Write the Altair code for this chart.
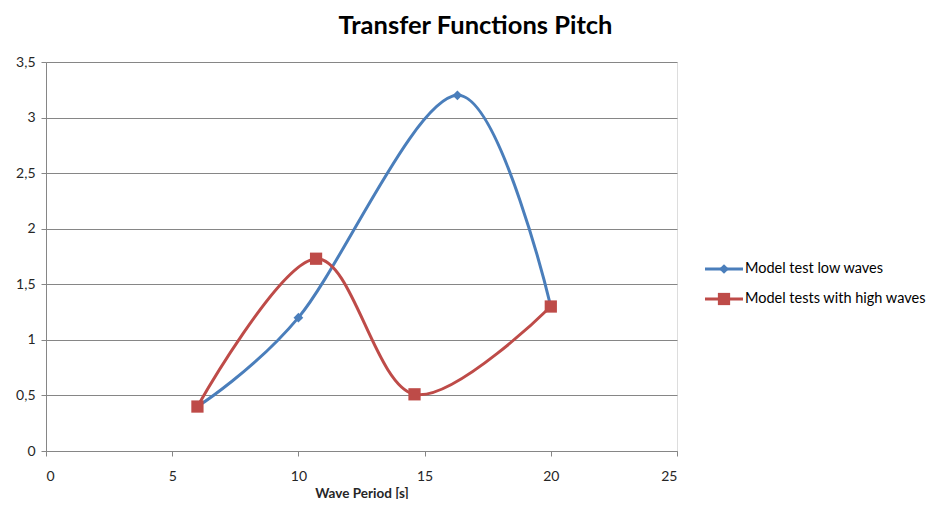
import altair as alt
import pandas as pd

# data
series_names = ["Model test low waves", "Model tests with high waves"]
low_x = [6, 10, 16.3, 20]
low_y = [0.4, 1.2, 3.2, 1.3]
high_x = [6, 10.7, 14.6, 20]
high_y = [0.4, 1.73, 0.51, 1.3]

x_ticks = [0, 5, 10, 15, 20, 25]
y_ticks = [0, 0.5, 1, 1.5, 2, 2.5, 3, 3.5]

colors = ["#4A7EBB", "#BE4B48"]
shapes = ["diamond", "square"]
marker_sizes = [95, 150]

rows = []
for xv, yv in zip(low_x, low_y):
    rows.append({"series": series_names[0], "x": xv, "y": yv, "order": len(rows)})
for xv, yv in zip(high_x, high_y):
    rows.append({"series": series_names[1], "x": xv, "y": yv, "order": len(rows)})
df = pd.DataFrame(rows)
leg_df = pd.DataFrame({"series": series_names})

FONT = "Lato"
color_scale = alt.Scale(domain=series_names, range=colors)
shape_scale = alt.Scale(domain=series_names, range=shapes)
size_scale = alt.Scale(domain=series_names, range=marker_sizes)

x_enc = alt.X("x:Q", scale=alt.Scale(domain=[0, 25], nice=False),
              axis=alt.Axis(values=x_ticks, title="Wave Period [s]", grid=False,
                            domainColor="#868686", tickColor="#868686", tickSize=5,
                            labelFont=FONT, labelFontSize=14, labelColor="#262626",
                            labelPadding=13,
                            titleFont=FONT, titleFontSize=13.5, titleFontWeight="bold",
                            titleColor="#262626", titlePadding=3))
y_enc = alt.Y("y:Q", scale=alt.Scale(domain=[0, 3.5], nice=False),
              axis=alt.Axis(values=y_ticks, title=None, grid=True, gridColor="#868686",
                            domainColor="#868686", tickColor="#868686", tickSize=5,
                            labelFont=FONT, labelFontSize=14, labelColor="#262626",
                            labelPadding=6,
                            labelExpr="replace(toString(datum.value), '.', ',')"))

lines = alt.Chart(df).mark_line(interpolate="cardinal", tension=0, strokeWidth=3).encode(
    x=x_enc, y=y_enc,
    color=alt.Color("series:N", scale=color_scale, legend=None),
    detail="series:N",
    order="order:Q",
)
points = alt.Chart(df).mark_point(filled=True, opacity=1).encode(
    x="x:Q", y="y:Q",
    color=alt.Color("series:N", scale=color_scale, legend=None),
    shape=alt.Shape("series:N", scale=shape_scale, legend=None),
    size=alt.Size("series:N", scale=size_scale, legend=None),
)
data_layer = alt.layer(lines, points)

leg_y = alt.Y("series:N", scale=alt.Scale(domain=series_names, range=[192, 252]),
              axis=None)
leg_line = alt.Chart(leg_df).mark_rule(strokeWidth=3).encode(
    x=alt.value(659), x2=alt.value(697), y=leg_y,
    color=alt.Color("series:N", scale=color_scale, legend=None),
)
leg_pt = alt.Chart(leg_df).mark_point(filled=True, opacity=1).encode(
    x=alt.value(678), y=leg_y,
    color=alt.Color("series:N", scale=color_scale, legend=None),
    shape=alt.Shape("series:N", scale=shape_scale, legend=None),
    size=alt.Size("series:N", scale=size_scale, legend=None),
)
leg_text = alt.Chart(leg_df).mark_text(align="left", baseline="middle", font=FONT,
                                       fontSize=14.5, color="#000000").encode(
    x=alt.value(699), y=leg_y, text="series:N",
)
legend = alt.layer(leg_line, leg_pt, leg_text)

chart = alt.layer(data_layer, legend).resolve_scale(y="independent").properties(
    width=631, height=389,
    autosize=alt.AutoSizeParams(type="none"),
    padding={"left": 38, "top": 54, "right": 251, "bottom": 48},
    title=alt.TitleParams("Transfer Functions Pitch", font=FONT, fontSize=25.5,
                          fontWeight="bold", color="#000000", anchor="middle",
                          dx=114, offset=16),
).configure_view(stroke=None).configure(background="white")

chart.save("out.html", embed_options={"renderer": "svg", "actions": False})
